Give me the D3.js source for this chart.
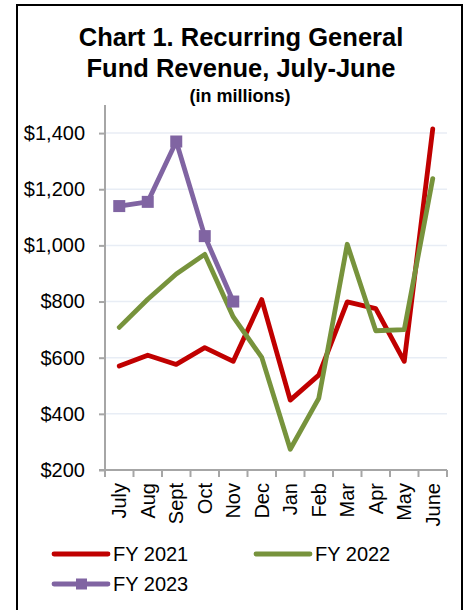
<!DOCTYPE html>
<html><head><meta charset="utf-8">
<script src="https://cdn.jsdelivr.net/npm/d3@7"></script>
<style>html,body{margin:0;padding:0;background:#fff;overflow:hidden}svg{display:block}</style>
</head><body>
<script>
const months = ["July","Aug","Sept","Oct","Nov","Dec","Jan","Feb","Mar","Apr","May","June"];
const fy2021 = [570,609,576,636,587,807,449,538,799,775,587,1415];
const fy2022 = [708,808,898,968,745,601,274,455,1004,696,700,1238];
const fy2023 = [1140,1155,1370,1033,800];
const yTicks = [200,400,600,800,1000,1200,1400];
const seriesNames = ["FY 2021","FY 2022","FY 2023"];
const colors = ["#C00000","#77933C","#8064A2"];

const W=466,H=610;
const svg=d3.select("body").append("svg").attr("width",W).attr("height",H);
svg.append("rect").attr("x",17).attr("y",5).attr("width",445).attr("height",620)
  .attr("fill","none").attr("stroke","#000").attr("stroke-width",2);

const font="Liberation Sans, Arial, sans-serif";
const t=svg.append("g").attr("font-family",font).attr("font-weight","bold").attr("text-anchor","middle").attr("fill","#000");
t.append("text").attr("x",241).attr("y",46).attr("font-size",25.5).text("Chart 1. Recurring General");
t.append("text").attr("x",241).attr("y",77).attr("font-size",25.5).text("Fund Revenue, July-June");
t.append("text").attr("x",240).attr("y",102).attr("font-size",18).text("(in millions)");

const L=105,R=447,T=105,B=470;
const x=d3.scaleBand().domain(months).range([L,R]);
const y=d3.scaleLinear().domain([200,1500]).range([B,T]);

// gridlines
svg.append("g").selectAll("line").data(yTicks.filter(d=>d>200)).join("line")
  .attr("x1",L).attr("x2",R).attr("y1",d=>y(d)).attr("y2",d=>y(d))
  .attr("stroke","#E8EDF5").attr("stroke-width",1.5);

// y axis
const ya=svg.append("g").attr("transform",`translate(${L},0)`)
  .call(d3.axisLeft(y).tickValues(yTicks).tickSize(6).tickPadding(14).tickFormat(d=>"$"+d3.format(",")(d)));
ya.select(".domain").attr("stroke","#A6A6A6").attr("stroke-width",2).attr("d",`M0,${T}V${B}`);
ya.selectAll(".tick line").attr("stroke","#A6A6A6").attr("stroke-width",2);
ya.selectAll("text").attr("font-family",font).attr("font-size",20).attr("fill","#000");

// x axis
const xa=svg.append("g").attr("transform",`translate(0,${B})`)
  .call(d3.axisBottom(x).tickSize(0).tickFormat(""));
xa.select(".domain").attr("stroke","#A6A6A6").attr("stroke-width",2).attr("d",`M${L-6},0H${R}`);
const bnd=[...months.map(m=>x(m)),R];
xa.selectAll(".sep").data(bnd).join("line").attr("class","sep")
  .attr("x1",d=>d).attr("x2",d=>d).attr("y1",0).attr("y2",7)
  .attr("stroke","#A6A6A6").attr("stroke-width",2);
xa.selectAll(".lab").data(months).join("text").attr("class","lab")
  .attr("transform",d=>`translate(${x(d)+x.bandwidth()/2+7},13) rotate(-90)`)
  .attr("text-anchor","end").attr("font-family",font).attr("font-size",20).attr("fill","#000").text(d=>d);

const line=d3.line().x((d,i)=>x(months[i])+x.bandwidth()/2).y(d=>y(d));
[fy2021,fy2022,fy2023].forEach((s,k)=>{
  svg.append("path").datum(s).attr("d",line).attr("fill","none")
    .attr("stroke",colors[k]).attr("stroke-width",4.8).attr("stroke-linejoin","round").attr("stroke-linecap","round");
});
svg.append("g").selectAll("rect").data(fy2023).join("rect")
  .attr("x",(d,i)=>x(months[i])+x.bandwidth()/2-6).attr("y",d=>y(d)-6)
  .attr("width",12).attr("height",12).attr("fill",colors[2]);

// legend
const leg=[{n:seriesNames[0],c:colors[0],x:54,y:554,m:false},{n:seriesNames[1],c:colors[1],x:256,y:554,m:false},{n:seriesNames[2],c:colors[2],x:54,y:584,m:true}];
const lg=svg.append("g");
leg.forEach(d=>{
  lg.append("line").attr("x1",d.x).attr("x2",d.x+54).attr("y1",d.y).attr("y2",d.y)
    .attr("stroke",d.c).attr("stroke-width",4.8).attr("stroke-linecap","round");
  if(d.m) lg.append("rect").attr("x",d.x+22).attr("y",d.y-5.5).attr("width",11).attr("height",11).attr("fill",d.c);
  lg.append("text").attr("x",d.x+59).attr("y",d.y+7).attr("font-family",font).attr("font-size",20).attr("fill","#000").text(d.n);
});
</script>
</body></html>
